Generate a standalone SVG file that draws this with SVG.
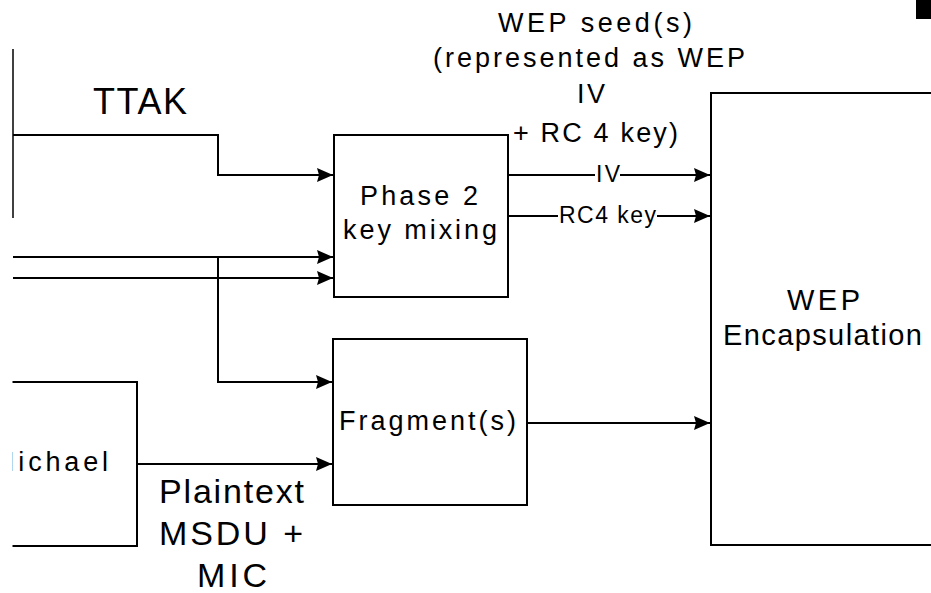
<svg xmlns="http://www.w3.org/2000/svg" width="931" height="593" viewBox="0 0 931 593">
<style>
  .box{fill:#fff;stroke:#000;stroke-width:2}
  .ln{fill:none;stroke:#000;stroke-width:2}
  .t{font-family:"Liberation Sans",Arial,sans-serif;fill:#000}
  .t27{font-size:27px}
  .t23{font-size:23px}
  .t29{font-size:29px}
  .t34{font-size:34px}
</style>
<defs>
  <marker id="arr" markerUnits="userSpaceOnUse" markerWidth="17" markerHeight="15" refX="16" refY="7" orient="auto">
    <path d="M0,0 L16,7 L0,14 L2,7 z" fill="#000"/>
  </marker>
  <clipPath id="clipL"><rect x="12.5" y="0" width="931" height="593"/></clipPath>
</defs>
<rect width="931" height="593" fill="#fff"/>
<rect x="916" y="0" width="15" height="19" fill="#000"/>

<g id="michael" clip-path="url(#clipL)">
  <path class="ln" d="M0 382 H137 V546 H0"/>
  <text class="t t27" x="-8" y="471" textLength="116" lengthAdjust="spacing">Michael</text>
</g>

<g id="phase2">
  <rect class="box" x="334" y="135" width="174" height="162"/>
  <text class="t t27" x="360" y="205" textLength="118" lengthAdjust="spacing">Phase 2</text>
  <text class="t t27" x="343" y="239" textLength="154" lengthAdjust="spacing">key mixing</text>
</g>

<g id="fragment">
  <rect class="box" x="333" y="339" width="194" height="166"/>
  <text class="t t27" x="339" y="430" textLength="177" lengthAdjust="spacing">Fragment(s)</text>
</g>

<g id="wep">
  <path class="ln" d="M935 93 H711 V545 H935"/>
  <text class="t t29" x="787" y="310" textLength="73" lengthAdjust="spacing">WEP</text>
  <text class="t t29" x="723" y="345" textLength="199" lengthAdjust="spacing">Encapsulation</text>
</g>

<g id="connectors">
  <line class="ln" x1="13" y1="49" x2="13" y2="218" style="stroke-width:1.5"/>
  <path class="ln" d="M13 135 H218 V175 H333" marker-end="url(#arr)"/>
  <path class="ln" d="M13 257 H333" marker-end="url(#arr)"/>
  <path class="ln" d="M13 278 H333" marker-end="url(#arr)"/>
  <path class="ln" d="M218 257 V382 H332" marker-end="url(#arr)"/>
  <path class="ln" d="M137 464 H332" marker-end="url(#arr)"/>
  <path class="ln" d="M508 175 H595"/>
  <path class="ln" d="M620 175 H710" marker-end="url(#arr)"/>
  <path class="ln" d="M508 216 H558"/>
  <path class="ln" d="M657 216 H710" marker-end="url(#arr)"/>
  <path class="ln" d="M527 423 H710" marker-end="url(#arr)"/>
</g>

<g id="labels">
  <text class="t" x="93" y="114" style="font-size:36px" textLength="94" lengthAdjust="spacing">TTAK</text>
  <text class="t t27" x="498" y="32" textLength="194" lengthAdjust="spacing">WEP seed(s)</text>
  <text class="t t27" x="433" y="67" textLength="312" lengthAdjust="spacing">(represented as WEP</text>
  <text class="t t27" x="577" y="103" textLength="28" lengthAdjust="spacing">IV</text>
  <text class="t t27" x="513" y="142" textLength="165" lengthAdjust="spacing">+ RC 4 key)</text>
  <text class="t t23" x="596" y="182" textLength="24" lengthAdjust="spacing">IV</text>
  <text class="t t23" x="559" y="223" textLength="97" lengthAdjust="spacing">RC4 key</text>
  <text class="t t34" x="159" y="503" textLength="145" lengthAdjust="spacing">Plaintext</text>
  <text class="t t34" x="159" y="545" textLength="144" lengthAdjust="spacing">MSDU +</text>
  <text class="t t34" x="197" y="587" textLength="70" lengthAdjust="spacing">MIC</text>
</g>
</svg>
